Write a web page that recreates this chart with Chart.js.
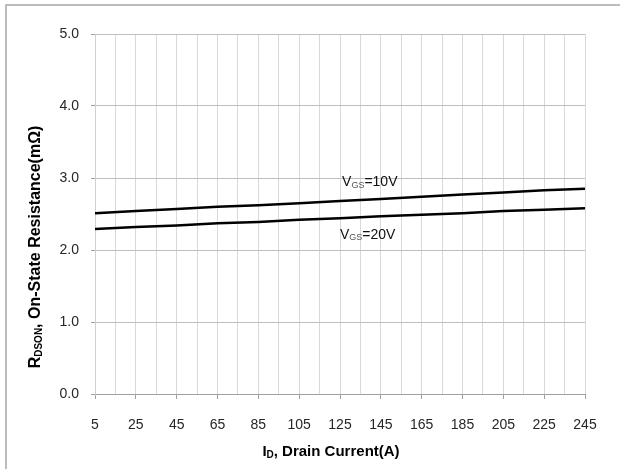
<!DOCTYPE html>
<html>
<head>
<meta charset="utf-8">
<script src="https://cdn.jsdelivr.net/npm/chart.js@4.4.0/dist/chart.umd.min.js"></script>
<style>
  html, body { margin: 0; padding: 0; background: #fff; }
  #wrap { width: 620px; height: 469px; position: relative; }
</style>
</head>
<body>
<div id="wrap"><canvas id="rdsChart"></canvas></div>
<script>
// drain current (A) and on-resistance (mOhm)
const current = [5, 25, 45, 65, 85, 105, 125, 145, 165, 185, 205, 225, 245];
const rdsVgs10 = [2.51, 2.54, 2.57, 2.60, 2.62, 2.65, 2.68, 2.71, 2.74, 2.77, 2.80, 2.83, 2.85];
const rdsVgs20 = [2.29, 2.32, 2.34, 2.37, 2.39, 2.42, 2.44, 2.47, 2.49, 2.51, 2.54, 2.56, 2.58];
const yTicks = [0, 1, 2, 3, 4, 5];

// curve labels, placed in data units
const curveLabels = [
  { sub: "GS", text: "=10V", x: 126, y: 2.94 },
  { sub: "GS", text: "=20V", x: 125, y: 2.21 }
];

const FONT = "'Liberation Sans', Arial, sans-serif";

function toPoints(ys) {
  return current.map((c, i) => ({ x: c, y: ys[i] }));
}

// draw text runs with subscripts, centred on x
function drawRich(ctx, parts, x, y, align) {
  let total = 0;
  parts.forEach(p => {
    ctx.font = p.font;
    p.w = ctx.measureText(p.t).width;
    total += p.w;
  });
  let cx = align === "left" ? x : x - total / 2;
  parts.forEach(p => {
    ctx.font = p.font;
    ctx.fillStyle = p.color || "#000";
    ctx.fillText(p.t, cx, y + (p.dy || 0));
    cx += p.w;
  });
}

const extras = {
  id: "extras",
  afterDraw(chart) {
    const ctx = chart.ctx;
    const xs = chart.scales.x, ys = chart.scales.y;
    ctx.save();
    ctx.textBaseline = "middle";
    ctx.textAlign = "left";

    // outer frame (top and left only visible)
    ctx.strokeStyle = "#a6a6a6";
    ctx.lineWidth = 1.5;
    ctx.beginPath();
    ctx.moveTo(6, 469);
    ctx.lineTo(6, 5);
    ctx.lineTo(620, 5);
    ctx.stroke();

    // curve labels
    curveLabels.forEach(l => {
      drawRich(ctx, [
        { t: "V", font: "14px " + FONT, color: "#111" },
        { t: l.sub, font: "9px " + FONT, dy: 3, color: "#555" },
        { t: l.text, font: "14px " + FONT, color: "#111" }
      ], xs.getPixelForValue(l.x), ys.getPixelForValue(l.y), "left");
    });

    // x title
    drawRich(ctx, [
      { t: "I", font: "bold 15px " + FONT },
      { t: "D", font: "bold 10px " + FONT, dy: 3 },
      { t: ", Drain Current(A)", font: "bold 15px " + FONT }
    ], 331, 452);

    // y title
    ctx.translate(36, 247);
    ctx.rotate(-Math.PI / 2);
    drawRich(ctx, [
      { t: "R", font: "bold 16px " + FONT },
      { t: "DSON", font: "bold 10px " + FONT, dy: 3 },
      { t: ", On-State Resistance(mΩ)", font: "bold 16px " + FONT }
    ], 0, 0);
    ctx.restore();
  }
};

new Chart(document.getElementById("rdsChart"), {
  type: "line",
  data: {
    datasets: [
      { label: "VGS=10V", data: toPoints(rdsVgs10), borderColor: "#000", borderWidth: 2.5, pointRadius: 0, tension: 0 },
      { label: "VGS=20V", data: toPoints(rdsVgs20), borderColor: "#000", borderWidth: 2.5, pointRadius: 0, tension: 0 }
    ]
  },
  options: {
    responsive: true,
    maintainAspectRatio: false,
    animation: false,
    layout: { padding: { top: 34, right: 35, left: 0, bottom: 0 } },
    plugins: { legend: { display: false }, tooltip: { enabled: false } },
    scales: {
      x: {
        type: "linear",
        min: current[0],
        max: current[current.length - 1],
        afterFit(scale) { scale.height = 75; },
        ticks: {
          stepSize: 10,
          autoSkip: false,
          maxRotation: 0,
          padding: 18,
          color: "#262626",
          font: { family: FONT, size: 14 },
          callback: v => ((v - 5) % 20 === 0 ? v : "")
        },
        grid: {
          color: "#d9d9d9",
          tickLength: 5,
          tickColor: c => ((c.tick && (c.tick.value - 5) % 20 === 0) ? "#a0a0a0" : "rgba(0,0,0,0)")
        },
        border: { color: "#a0a0a0" }
      },
      y: {
        min: yTicks[0],
        max: yTicks[yTicks.length - 1],
        afterFit(scale) { scale.width = 95; },
        afterBuildTicks(scale) { scale.ticks = yTicks.map(v => ({ value: v })); },
        ticks: {
          padding: 12,
          color: "#262626",
          font: { family: FONT, size: 14 },
          callback: v => v.toFixed(1)
        },
        grid: { color: "#bfbfbf", tickLength: 4, tickColor: "#a0a0a0" },
        border: { color: "#d0d0d0" }
      }
    }
  },
  plugins: [extras]
});
</script>
</body>
</html>
